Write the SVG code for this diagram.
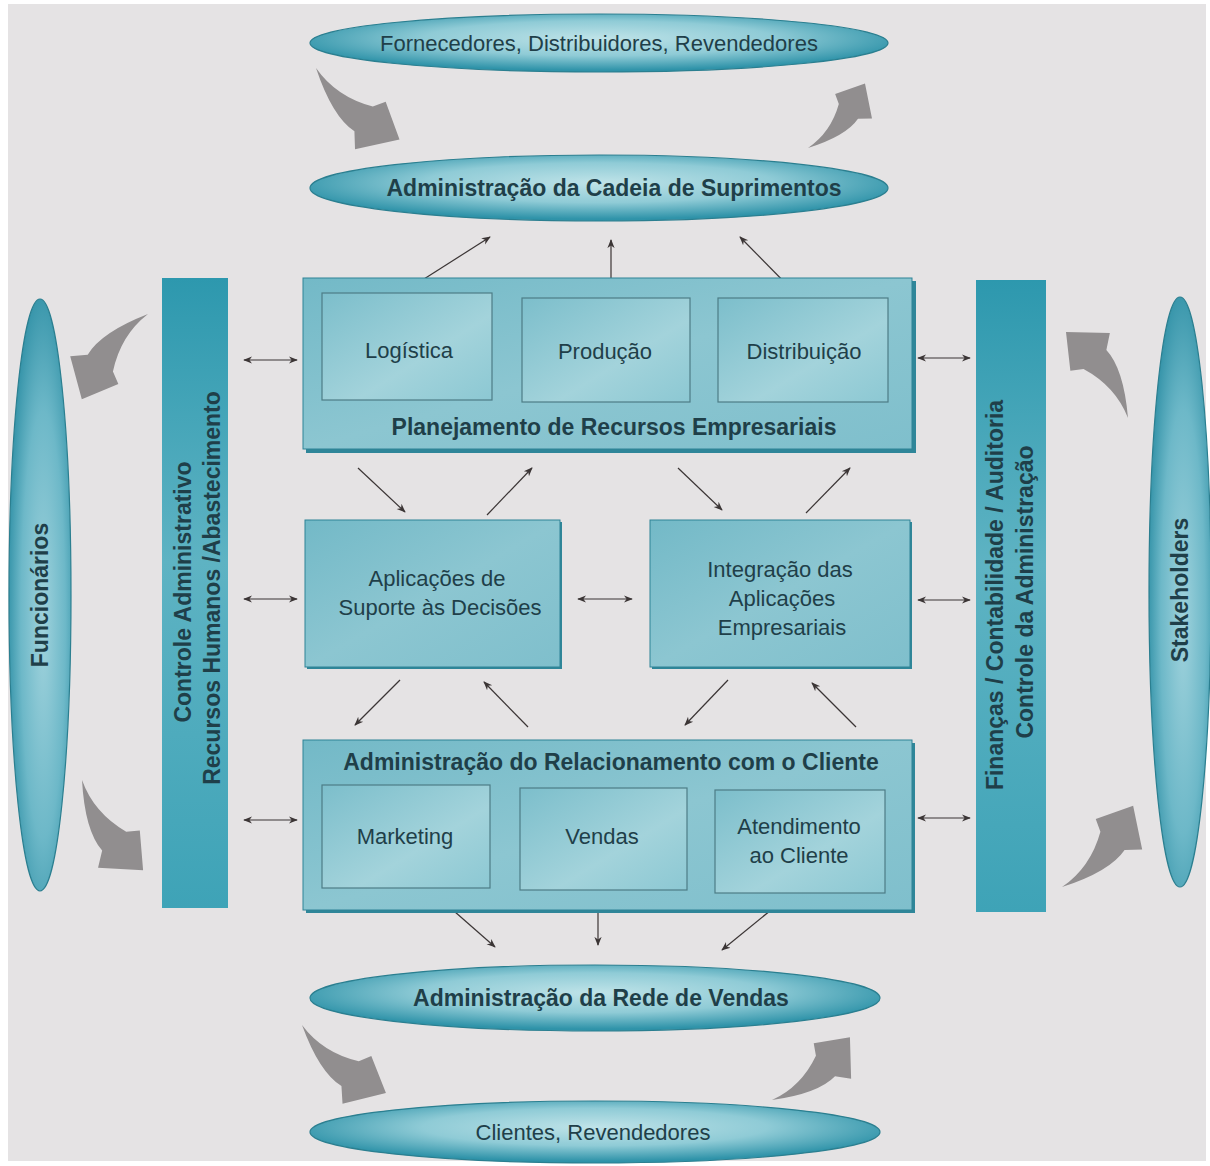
<svg xmlns="http://www.w3.org/2000/svg" width="1210" height="1166" viewBox="0 0 1210 1166">
  <defs>
    <style>
      .t { font-family: "Liberation Sans", Arial, sans-serif; fill: #1f3f49; text-anchor: middle; }
      .n { font-size: 22px; }
      .b { font-size: 23px; font-weight: bold; }
      .ell { fill: url(#ellH); stroke: #2b7f90; stroke-width: 1.2; }
      .ellv { fill: url(#ellV); stroke: #2b7f90; stroke-width: 1.2; }
      .outer { fill: url(#boxG); stroke: #2f8396; stroke-width: 1; }
      .inner { fill: url(#innerG); stroke: #4d7c86; stroke-width: 1.2; }
      .bar { fill: url(#barG); }
      .cn { stroke: #3b3535; stroke-width: 1.2; fill: none; }
      .one { marker-end: url(#ah); }
      .two { marker-start: url(#ah); marker-end: url(#ah); }
      .flow { fill: #918e8f; }
      .shadow { fill: #2f8699; }
    </style>
    <radialGradient id="ellH" cx="0.5" cy="0.42" r="0.55">
      <stop offset="0" stop-color="#bfe3e8"/>
      <stop offset="0.55" stop-color="#8fcbd6"/>
      <stop offset="1" stop-color="#2f93a9"/>
    </radialGradient>
    <radialGradient id="ellV" cx="0.55" cy="0.55" r="0.6">
      <stop offset="0" stop-color="#9fd2dc"/>
      <stop offset="0.6" stop-color="#6db8c8"/>
      <stop offset="1" stop-color="#2e8fa5"/>
    </radialGradient>
    <linearGradient id="boxG" x1="0" y1="0" x2="1" y2="1">
      <stop offset="0" stop-color="#73b9c7"/>
      <stop offset="0.5" stop-color="#8cc6d1"/>
      <stop offset="1" stop-color="#7fbfcc"/>
    </linearGradient>
    <linearGradient id="innerG" x1="0" y1="0" x2="1" y2="1">
      <stop offset="0" stop-color="#7cbecb"/>
      <stop offset="0.6" stop-color="#a3d3db"/>
      <stop offset="1" stop-color="#8cc8d3"/>
    </linearGradient>
    <linearGradient id="barG" x1="0" y1="0" x2="0" y2="1">
      <stop offset="0" stop-color="#2d98ae"/>
      <stop offset="0.45" stop-color="#5eb3c3"/>
      <stop offset="1" stop-color="#3ea3b7"/>
    </linearGradient>
    <marker id="ah" viewBox="0 0 10 10" refX="9" refY="5" markerWidth="9" markerHeight="9" markerUnits="userSpaceOnUse" orient="auto-start-reverse">
      <path d="M0,1 L10,5 L0,9 L3,5 Z" fill="#3b3535"/>
    </marker>
    <!-- broad curved arrow: pointed tail at origin, tip at (100,0), bulging toward +y -->
    <path id="bend" d="M0,0 Q40,24 64,21 L75,33 L100,0 L68,-18 L62,-7 Q31,8 0,0 Z"/>
  </defs>

  <!-- page -->
  <rect x="0" y="0" width="1210" height="1166" fill="#ffffff"/>
  <rect x="8" y="4" width="1198" height="1157" fill="#e5e3e4"/>

  <!-- broad gray flow arrows -->
  <g id="flows" class="flow">
    <use href="#bend" transform="translate(316,68) rotate(40.6) scale(1.1)"/>
    <use href="#bend" transform="translate(808,148) rotate(-48.5) scale(0.86)"/>
    <use href="#bend" transform="translate(148,314) rotate(127.8) scale(1.08)"/>
    <use href="#bend" transform="translate(82,780) rotate(55.9) scale(1.09)"/>
    <use href="#bend" transform="translate(1128,418) rotate(-125.8) scale(1.06)"/>
    <use href="#bend" transform="translate(1062,887) rotate(-48.8) scale(1.08)"/>
    <use href="#bend" transform="translate(302,1025) rotate(39) scale(1.08)"/>
    <use href="#bend" transform="translate(772,1100) rotate(-38.8) scale(1.0)"/>
  </g>

  <!-- thin connectors -->
  <g id="connectors">
    <line class="cn one" x1="402" y1="293" x2="490" y2="237"/>
    <line class="cn one" x1="611" y1="298" x2="611" y2="240"/>
    <line class="cn one" x1="800" y1="298" x2="740" y2="237"/>

    <line class="cn one" x1="358" y1="468" x2="405" y2="512"/>
    <line class="cn one" x1="487" y1="515" x2="532" y2="468"/>
    <line class="cn one" x1="678" y1="468" x2="722" y2="510"/>
    <line class="cn one" x1="806" y1="513" x2="850" y2="468"/>

    <line class="cn one" x1="400" y1="680" x2="355" y2="725"/>
    <line class="cn one" x1="528" y1="727" x2="484" y2="682"/>
    <line class="cn one" x1="728" y1="680" x2="685" y2="725"/>
    <line class="cn one" x1="856" y1="727" x2="812" y2="683"/>

    <line class="cn one" x1="430" y1="890" x2="495" y2="947"/>
    <line class="cn one" x1="598" y1="895" x2="598" y2="945"/>
    <line class="cn one" x1="787" y1="897" x2="722" y2="950"/>

    <line class="cn two" x1="244" y1="360" x2="297" y2="360"/>
    <line class="cn two" x1="244" y1="599" x2="297" y2="599"/>
    <line class="cn two" x1="244" y1="820" x2="297" y2="820"/>
    <line class="cn two" x1="918" y1="358" x2="970" y2="358"/>
    <line class="cn two" x1="918" y1="600" x2="970" y2="600"/>
    <line class="cn two" x1="918" y1="818" x2="970" y2="818"/>
    <line class="cn two" x1="578" y1="599" x2="632" y2="599"/>
  </g>

  <!-- outer partners and chain -->
  <g id="fornecedores">
    <ellipse class="ell" cx="599" cy="43" rx="289" ry="29"/>
    <text class="t n" x="599" y="51">Fornecedores, Distribuidores, Revendedores</text>
  </g>
  <g id="cadeia">
    <ellipse class="ell" cx="599" cy="188" rx="289" ry="33"/>
    <text class="t b" x="614" y="196">Administração da Cadeia de Suprimentos</text>
  </g>
  <g id="rede-vendas">
    <ellipse class="ell" cx="595" cy="998" rx="285" ry="33"/>
    <text class="t b" x="601" y="1006">Administração da Rede de Vendas</text>
  </g>
  <g id="clientes">
    <ellipse class="ell" cx="595" cy="1132" rx="285" ry="31"/>
    <text class="t n" x="593" y="1140">Clientes, Revendedores</text>
  </g>
  <g id="funcionarios">
    <ellipse class="ellv" cx="40" cy="595" rx="31" ry="296"/>
    <text class="t b" transform="translate(40,595) rotate(-90)" x="0" y="8">Funcionários</text>
  </g>
  <g id="stakeholders">
    <ellipse class="ellv" cx="1180" cy="592" rx="31" ry="295"/>
    <text class="t b" transform="translate(1180,590) rotate(-90)" x="0" y="8">Stakeholders</text>
  </g>

  <!-- side bars -->
  <g id="controle-administrativo">
    <rect class="bar" x="162" y="278" width="66" height="630"/>
    <text class="t b" transform="translate(183,592) rotate(-90)" x="0" y="8">Controle Administrativo</text>
    <text class="t b" transform="translate(212,588) rotate(-90)" x="0" y="8">Recursos Humanos /Abastecimento</text>
  </g>
  <g id="financas">
    <rect class="bar" x="976" y="280" width="70" height="632"/>
    <text class="t b" transform="translate(995,595) rotate(-90)" x="0" y="8">Finanças / Contabilidade / Auditoria</text>
    <text class="t b" transform="translate(1025,592) rotate(-90)" x="0" y="8">Controle da Administração</text>
  </g>

  <!-- enterprise resource planning -->
  <g id="erp">
    <rect class="shadow" x="306" y="281" width="610" height="172"/>
    <rect class="outer" x="303" y="278" width="609" height="171"/>
    <g id="logistica">
      <rect class="inner" x="322" y="293" width="170" height="107"/>
      <text class="t n" x="409" y="358">Logística</text>
    </g>
    <g id="producao">
      <rect class="inner" x="522" y="298" width="168" height="104"/>
      <text class="t n" x="605" y="359">Produção</text>
    </g>
    <g id="distribuicao">
      <rect class="inner" x="718" y="298" width="170" height="104"/>
      <text class="t n" x="804" y="359">Distribuição</text>
    </g>
    <text class="t b" x="614" y="435">Planejamento de Recursos Empresariais</text>
  </g>

  <!-- middle applications -->
  <g id="suporte-decisoes">
    <rect class="shadow" x="307" y="522" width="255" height="147"/>
    <rect class="outer" x="305" y="520" width="255" height="147"/>
    <text class="t n" x="437" y="586">Aplicações de</text>
    <text class="t n" x="440" y="615">Suporte às Decisões</text>
  </g>
  <g id="integracao">
    <rect class="shadow" x="652" y="522" width="260" height="147"/>
    <rect class="outer" x="650" y="520" width="260" height="147"/>
    <text class="t n" x="780" y="577">Integração das</text>
    <text class="t n" x="782" y="606">Aplicações</text>
    <text class="t n" x="782" y="635">Empresariais</text>
  </g>

  <!-- customer relationship management -->
  <g id="crm">
    <rect class="shadow" x="306" y="743" width="609" height="170"/>
    <rect class="outer" x="303" y="740" width="609" height="170"/>
    <text class="t b" x="611" y="770">Administração do Relacionamento com o Cliente</text>
    <g id="marketing">
      <rect class="inner" x="322" y="785" width="168" height="103"/>
      <text class="t n" x="405" y="844">Marketing</text>
    </g>
    <g id="vendas">
      <rect class="inner" x="520" y="788" width="167" height="102"/>
      <text class="t n" x="602" y="844">Vendas</text>
    </g>
    <g id="atendimento">
      <rect class="inner" x="715" y="790" width="170" height="103"/>
      <text class="t n" x="799" y="834">Atendimento</text>
      <text class="t n" x="799" y="863">ao Cliente</text>
    </g>
  </g>
</svg>
